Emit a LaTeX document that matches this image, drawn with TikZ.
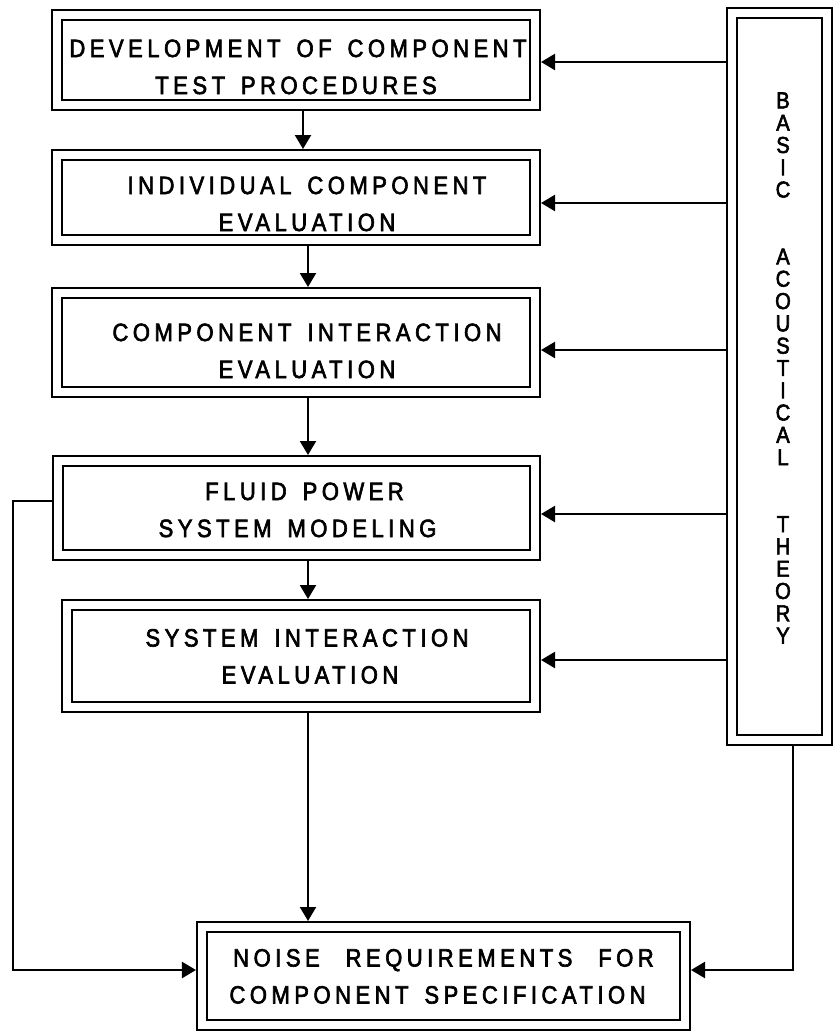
\documentclass[tikz,border=0pt]{standalone}
\usepackage{fontspec}
\setmainfont{Liberation Sans}
\newfontfamily\lrfont[LetterSpace=18,WordSpace=1.5,FakeStretch=0.88,FakeBold=2.5]{Liberation Sans}
\newcommand\pushr[1]{\hspace*{#1bp}}
\usetikzlibrary{arrows.meta}
\begin{document}
\begin{tikzpicture}[x=1bp,y=-1bp,
  box/.style={draw, double, double distance=8bp, line width=2bp, outer sep=6bp,
    align=center, inner sep=0pt, text height=55bp, text depth=0bp,
    font=\lrfont\fontsize{25bp}{37bp}\selectfont},
  arr/.style={line width=2.2bp, -{Triangle[width=16bp,length=14bp]}},
  vtext/.style={align=center, font=\lrfont\fontsize{23bp}{22.3bp}\selectfont}]
\useasboundingbox (0,0) rectangle (833,1033);
\node[box, minimum width=478bp, minimum height=90bp, text height=68bp] (dev) at (296,60)
  {\pushr{4}DEVELOPMENT OF COMPONENT\\TEST PROCEDURES};
\node[box, minimum width=478bp, minimum height=85bp, text height=67bp] (ind) at (296,197.5)
  {\pushr{22}INDIVIDUAL COMPONENT\\\pushr{22}EVALUATION};
\node[box, minimum width=478bp, minimum height=99bp, text height=71bp] (cie) at (296,342.5)
  {\pushr{22}COMPONENT INTERACTION\\\pushr{22}EVALUATION};
\node[box, minimum width=477bp, minimum height=94bp, text height=58bp] (fps) at (296.5,508)
  {\pushr{16}FLUID POWER\\\pushr{2}SYSTEM MODELING};
\node[box, minimum width=468bp, minimum height=102bp] (sie) at (301,656)
  {\pushr{12}SYSTEM INTERACTION\\\pushr{18}EVALUATION};
\node[box, minimum width=483bp, minimum height=98bp] (nr) at (443.5,976)
  {NOISE\hspace{10bp} REQUIREMENTS\hspace{10bp} FOR\\COMPONENT SPECIFICATION\pushr{12}};
\node[box, minimum width=95bp, minimum height=727bp] (bat) at (779.5,376.5) {};
\node[vtext] (battxt) at (783,368) {B\\A\\S\\I\\C\\[44.6bp]A\\C\\O\\U\\S\\T\\I\\C\\A\\L\\[44.6bp]T\\H\\E\\O\\R\\Y};
% vertical flow
\coordinate (v1) at (303,0);
\coordinate (v2) at (308,0);
\draw[arr] (dev.south -| v1) -- (ind.north -| v1);
\draw[arr] (ind.south -| v2) -- (cie.north -| v2);
\draw[arr] (cie.south -| v2) -- (fps.north -| v2);
\draw[arr] (fps.south -| v2) -- (sie.north -| v2);
\draw[arr] (sie.south -| v2) -- (nr.north -| v2);
% theory feeds
\coordinate (h1) at ([yshift=-2bp]dev.east);
\coordinate (h2) at ([yshift=-5.5bp]ind.east);
\coordinate (h3) at ([yshift=-7.5bp]cie.east);
\coordinate (h4) at ([yshift=-6bp]fps.east);
\coordinate (h5) at ([yshift=-4bp]sie.east);
\draw[arr] (h1 -| bat.west) -- (h1);
\draw[arr] (h2 -| bat.west) -- (h2);
\draw[arr] (h3 -| bat.west) -- (h3);
\draw[arr] (h4 -| bat.west) -- (h4);
\draw[arr] (h5 -| bat.west) -- (h5);
% side returns
\coordinate (fl) at ([yshift=7bp]fps.west);
\coordinate (lc) at (13,970);
\coordinate (rc) at (793,970);
\draw[arr] (fl) -| (lc) -- (nr.west |- lc);
\draw[arr] (bat.south -| rc) -- (rc) -- (nr.east |- rc);
\end{tikzpicture}
\end{document}
